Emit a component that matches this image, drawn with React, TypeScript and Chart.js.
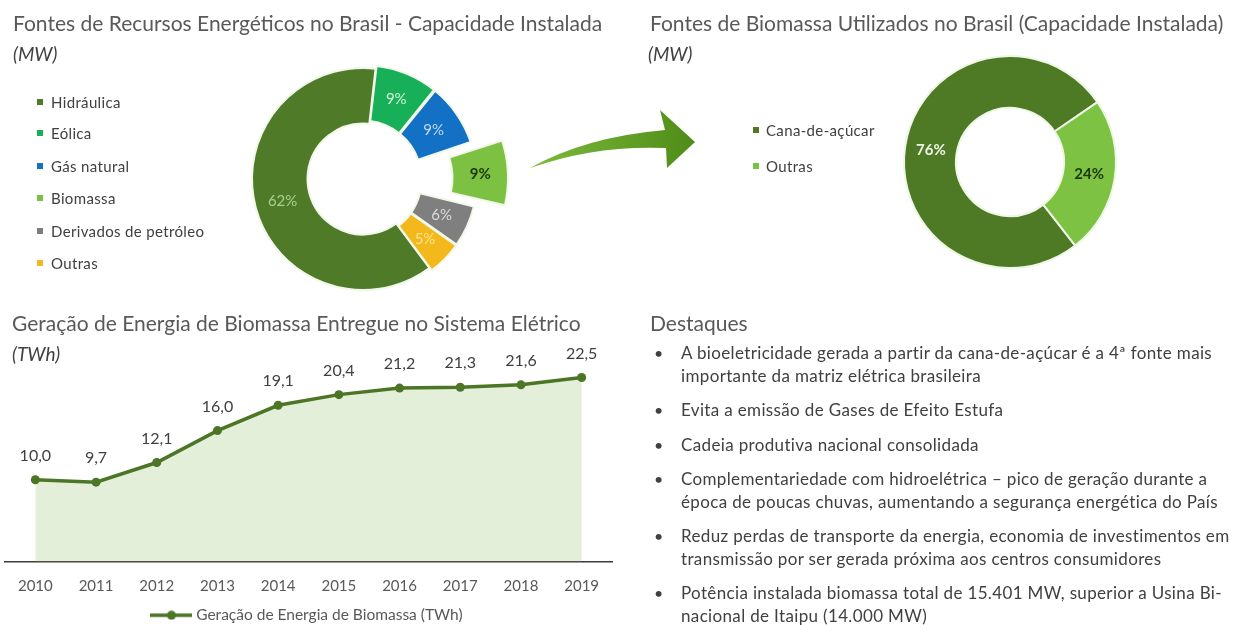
import React, { useEffect, useRef } from "react";
import { Chart, registerables } from "chart.js";

Chart.register(...registerables);

const FONT = "Lato, 'Noto Sans', sans-serif";

// ---------- data ----------
const sourceLabels = ["Hidráulica", "Eólica", "Gás natural", "Biomassa", "Derivados de petróleo", "Outras"];
const sourceShares = [62, 9, 9, 9, 6, 5];

const biomassLabels = ["Cana-de-açúcar", "Outras"];
const biomassShares = [76, 24];

const years = ["2010", "2011", "2012", "2013", "2014", "2015", "2016", "2017", "2018", "2019"];
const generation = [10.0, 9.7, 12.1, 16.0, 19.1, 20.4, 21.2, 21.3, 21.6, 22.5];

const highlights: string[][] = [
  ["A bioeletricidade gerada a partir da cana-de-açúcar é a 4ª fonte mais", "importante da matriz elétrica brasileira"],
  ["Evita a emissão de Gases de Efeito Estufa"],
  ["Cadeia produtiva nacional consolidada"],
  ["Complementariedade com hidroelétrica – pico de geração durante a", "época de poucas chuvas, aumentando a segurança energética do País"],
  ["Reduz perdas de transporte da energia, economia de investimentos em", "transmissão por ser gerada próxima aos centros consumidores"],
  ["Potência instalada biomassa total de 15.401 MW, superior a Usina Bi-", "nacional de Itaipu (14.000 MW)"],
];

// ---------- styles ----------
const sourceColors = ["#4f7a28", "#17b058", "#1271c4", "#7dc142", "#7f7f7f", "#f3b91c"];
const sourceTextColors = ["#a9d08e", "#d3f2dc", "#c0dbf3", "#1c360a", "#dcdcdc", "#ffe38a"];
const sourceTextWeights = ["normal", "normal", "normal", "bold", "normal", "normal"];
const sourceOffsets = [0, 8, 8, 93, 8, 8];

const biomassColors = ["#4e7a26", "#7dc243"];
const biomassTextColors = ["#eef6e6", "#1c360a"];

const lineColor = "#4c7526";
const fillColor = "#e3efd9";
const textGray = "#595959";
const darkGray = "#404040";

const fmt = (v: number) => v.toFixed(1).replace(".", ",");

function arcLabelPlugin(texts: string[], colors: string[], weights: string[], size: number) {
  return {
    id: "arcLabels",
    afterDatasetsDraw(chart: any) {
      const meta = chart.getDatasetMeta(0);
      const ctx = chart.ctx;
      meta.data.forEach((arc: any, i: number) => {
        const p = arc.getProps(["x", "y", "startAngle", "endAngle", "innerRadius", "outerRadius", "circumference"], true);
        const off = (arc.options.offset || 0) / 4;
        const fix = 1 - Math.sin(Math.min(Math.PI, p.circumference || 0));
        const mid = (p.startAngle + p.endAngle) / 2;
        const r = (p.innerRadius + p.outerRadius) / 2 + off + off * fix;
        ctx.save();
        ctx.font = `${weights[i]} ${size}px ${FONT}`;
        ctx.fillStyle = colors[i];
        ctx.textAlign = "center";
        ctx.textBaseline = "middle";
        ctx.fillText(texts[i], p.x + Math.cos(mid) * r, p.y + Math.sin(mid) * r);
        ctx.restore();
      });
    },
  };
}

const pointLabelPlugin = {
  id: "pointLabels",
  afterDatasetsDraw(chart: any) {
    const meta = chart.getDatasetMeta(0);
    const ctx = chart.ctx;
    const values = chart.data.datasets[0].data as number[];
    ctx.save();
    ctx.font = `16px ${FONT}`;
    ctx.fillStyle = darkGray;
    ctx.textAlign = "center";
    ctx.textBaseline = "middle";
    meta.data.forEach((pt: any, i: number) => {
      ctx.fillText(fmt(values[i]), pt.x, pt.y - 24);
    });
    ctx.restore();
  },
};

function SourcesDonut() {
  const ref = useRef<HTMLCanvasElement>(null);
  useEffect(() => {
    const chart = new Chart(ref.current!, {
      type: "doughnut",
      data: {
        labels: sourceLabels,
        datasets: [
          {
            data: sourceShares,
            backgroundColor: sourceColors,
            borderColor: "#f1f8ea",
            borderWidth: 2,
            offset: sourceOffsets,
          },
        ],
      },
      options: {
        animation: false,
        responsive: false,
        rotation: 136.8 + 6.5,
        radius: 111,
        cutout: "50%",
        plugins: { legend: { display: false }, tooltip: { enabled: false } },
        events: [],
      },
      plugins: [arcLabelPlugin(sourceShares.map((v) => v + "%"), sourceTextColors, sourceTextWeights, 15)],
    } as any);
    return () => chart.destroy();
  }, []);
  return <canvas ref={ref} width={320} height={320} style={{ position: "absolute", left: 203, top: 19 }} />;
}

function BiomassDonut() {
  const ref = useRef<HTMLCanvasElement>(null);
  useEffect(() => {
    const chart = new Chart(ref.current!, {
      type: "doughnut",
      data: {
        labels: biomassLabels,
        datasets: [
          {
            data: biomassShares,
            backgroundColor: biomassColors,
            borderColor: "#eef7e4",
            borderWidth: 2,
          },
        ],
      },
      options: {
        animation: false,
        responsive: false,
        rotation: 142,
        radius: 106,
        cutout: "51%",
        plugins: { legend: { display: false }, tooltip: { enabled: false } },
        events: [],
      },
      plugins: [arcLabelPlugin(biomassShares.map((v) => v + "%"), biomassTextColors, ["bold", "bold"], 15)],
    } as any);
    return () => chart.destroy();
  }, []);
  return <canvas ref={ref} width={300} height={300} style={{ position: "absolute", left: 860, top: 12 }} />;
}

function GenerationLine() {
  const ref = useRef<HTMLCanvasElement>(null);
  useEffect(() => {
    const marker = document.createElement("canvas");
    marker.width = 42;
    marker.height = 10;
    const m = marker.getContext("2d")!;
    m.strokeStyle = lineColor;
    m.lineWidth = 3.5;
    m.beginPath();
    m.moveTo(0, 5);
    m.lineTo(42, 5);
    m.stroke();
    m.fillStyle = lineColor;
    m.beginPath();
    m.arc(21, 5, 4.5, 0, Math.PI * 2);
    m.fill();

    const chart = new Chart(ref.current!, {
      type: "line",
      data: {
        labels: years,
        datasets: [
          {
            label: "Geração de Energia de Biomassa (TWh)",
            data: generation,
            borderColor: lineColor,
            borderWidth: 3.5,
            backgroundColor: fillColor,
            fill: "origin",
            pointRadius: 4.5,
            pointBackgroundColor: lineColor,
            pointBorderColor: lineColor,
            pointBorderWidth: 0,
            tension: 0,
          },
        ],
      },
      options: {
        animation: false,
        responsive: false,
        events: [],
        layout: { padding: { left: 5, right: 8, top: 17, bottom: 0 } },
        scales: {
          x: {
            offset: true,
            grid: { display: false, drawTicks: false },
            border: { display: true, color: "#3a3a3a", width: 1.5 },
            ticks: { padding: 16, color: textGray, font: { family: FONT, size: 15 } },
            afterFit: (scale: any) => {
              scale.height = 38;
            },
          },
          y: { display: false, min: 0, max: 25 },
        },
        plugins: {
          tooltip: { enabled: false },
          legend: {
            position: "bottom",
            labels: {
              usePointStyle: true,
              pointStyle: marker,
              pointStyleWidth: 34,
              padding: 8,
              color: textGray,
              font: { family: FONT, size: 15.5 },
            },
          },
        },
      },
      plugins: [pointLabelPlugin],
    } as any);
    return () => chart.destroy();
  }, []);
  return <canvas ref={ref} width={620} height={293} style={{ position: "absolute", left: 0, top: 340 }} />;
}

function Txt(props: {
  x: number;
  cy: number;
  size: number;
  color?: string;
  italic?: boolean;
  lh?: number;
  ls?: number;
  children: React.ReactNode;
}) {
  const lh = props.lh ?? Math.round(props.size * 1.3);
  return (
    <div
      style={{
        position: "absolute",
        left: props.x,
        top: props.cy - lh / 2,
        fontSize: props.size,
        lineHeight: lh + "px",
        letterSpacing: (props.ls ?? 0) + "px",
        color: props.color ?? textGray,
        fontStyle: props.italic ? "italic" : "normal",
        whiteSpace: "nowrap",
      }}
    >
      {props.children}
    </div>
  );
}

export default function App() {
  const legendLeftY = [102, 133, 166, 198, 231, 263];
  const legendRightY = [130, 166];

  // bullet layout
  const bulletLine = 22.5;
  const bulletGap = 34.5;
  const bulletStarts: number[] = [];
  let yCur = 353;
  highlights.forEach((b) => {
    bulletStarts.push(yCur);
    yCur += bulletLine * (b.length - 1) + bulletGap;
  });

  return (
    <div
      style={{
        position: "fixed",
        left: 0,
        top: 0,
        width: 1240,
        height: 625,
        overflow: "hidden",
        background: "#ffffff",
        fontFamily: FONT,
      }}
    >
      <SourcesDonut />
      <BiomassDonut />
      <GenerationLine />

      <svg width={1240} height={625} style={{ position: "absolute", left: 0, top: 0, pointerEvents: "none" }}>
        <defs>
          <linearGradient id="arrowGrad" x1="530" y1="0" x2="695" y2="0" gradientUnits="userSpaceOnUse">
            <stop offset="0" stopColor="#7dbb3c" />
            <stop offset="1" stopColor="#4f8c18" />
          </linearGradient>
        </defs>
        <path
          d="M530,168 Q585,137 665,130 L660,110 L695,142 L667,168 L666,148 Q595,145 530,168 Z"
          fill="url(#arrowGrad)"
        />
      </svg>

      {/* titles */}
      <Txt x={13} cy={22} size={21}>Fontes de Recursos Energéticos no Brasil - Capacidade Instalada</Txt>
      <Txt x={13} cy={53} size={19} italic color={darkGray}>(MW)</Txt>
      <Txt x={650} cy={22} size={21}>Fontes de Biomassa Utilizados no Brasil (Capacidade Instalada)</Txt>
      <Txt x={648} cy={53} size={19} italic color={darkGray}>(MW)</Txt>
      <Txt x={12} cy={322} size={21}>Geração de Energia de Biomassa Entregue no Sistema Elétrico</Txt>
      <Txt x={12} cy={353} size={19} italic color={darkGray}>(TWh)</Txt>
      <Txt x={650} cy={322} size={21}>Destaques</Txt>

      {/* left legend */}
      {sourceLabels.map((l, i) => (
        <React.Fragment key={l}>
          <div style={{ position: "absolute", left: 37, top: legendLeftY[i] - 3, width: 6, height: 6, background: sourceColors[i] }} />
          <Txt x={51} cy={legendLeftY[i]} size={15} ls={0.35} color={darkGray}>{l}</Txt>
        </React.Fragment>
      ))}

      {/* right legend */}
      {biomassLabels.map((l, i) => (
        <React.Fragment key={l}>
          <div style={{ position: "absolute", left: 753, top: legendRightY[i] - 3, width: 6, height: 6, background: biomassColors[i] }} />
          <Txt x={766} cy={legendRightY[i]} size={15} ls={0.35} color={darkGray}>{l}</Txt>
        </React.Fragment>
      ))}

      {/* highlights */}
      {highlights.map((b, i) => (
        <React.Fragment key={i}>
          <Txt x={654} cy={bulletStarts[i]} size={16} color={darkGray} lh={22}>•</Txt>
          {b.map((line, j) => (
            <Txt key={j} x={681} cy={bulletStarts[i] + j * bulletLine} size={17} ls={0.35} color={darkGray} lh={22}>
              {line}
            </Txt>
          ))}
        </React.Fragment>
      ))}
    </div>
  );
}
